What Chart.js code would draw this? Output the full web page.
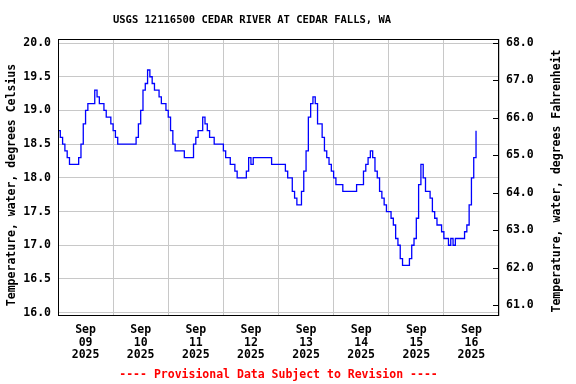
<!DOCTYPE html>
<html>
<head>
<meta charset="utf-8">
<script src="https://cdn.jsdelivr.net/npm/chart.js@4.4.1/dist/chart.umd.min.js"></script>
<style>
body { margin: 0; background: #fff; }
#wrap { width: 576px; height: 384px; position: relative; }
</style>
</head>
<body>
<div id="wrap"><canvas id="lineChart"></canvas></div>
<script>
const month = 'Sep';
const year = '2025';
const days = ['09', '10', '11', '12', '13', '14', '15', '16'];
const celsiusTicks = [16.0, 16.5, 17.0, 17.5, 18.0, 18.5, 19.0, 19.5, 20.0];
const fahrenheitTicks = [61, 62, 63, 64, 65, 66, 67, 68];

// hourly water temperature (deg C), each array starts at midnight
const sep09 = [18.7, 18.6, 18.5, 18.4, 18.3, 18.2, 18.2, 18.2, 18.2, 18.3, 18.5, 18.8, 19.0, 19.1, 19.1, 19.1, 19.3, 19.2, 19.1, 19.1, 19.0, 18.9, 18.9, 18.8];
const sep10 = [18.7, 18.6, 18.5, 18.5, 18.5, 18.5, 18.5, 18.5, 18.5, 18.5, 18.6, 18.8, 19.0, 19.3, 19.4, 19.6, 19.5, 19.4, 19.3, 19.3, 19.2, 19.1, 19.1, 19.0];
const sep11 = [18.9, 18.7, 18.5, 18.4, 18.4, 18.4, 18.4, 18.3, 18.3, 18.3, 18.3, 18.5, 18.6, 18.7, 18.7, 18.9, 18.8, 18.7, 18.6, 18.6, 18.5, 18.5, 18.5, 18.5];
const sep12 = [18.4, 18.3, 18.3, 18.2, 18.2, 18.1, 18.0, 18.0, 18.0, 18.0, 18.1, 18.3, 18.2, 18.3, 18.3, 18.3, 18.3, 18.3, 18.3, 18.3, 18.3, 18.2, 18.2, 18.2];
const sep13 = [18.2, 18.2, 18.2, 18.1, 18.0, 18.0, 17.8, 17.7, 17.6, 17.6, 17.8, 18.1, 18.4, 18.9, 19.1, 19.2, 19.1, 18.8, 18.8, 18.6, 18.4, 18.3, 18.2, 18.1];
const sep14 = [18.0, 17.9, 17.9, 17.9, 17.8, 17.8, 17.8, 17.8, 17.8, 17.8, 17.9, 17.9, 17.9, 18.1, 18.2, 18.3, 18.4, 18.3, 18.1, 18.0, 17.8, 17.7, 17.6, 17.5];
const sep15 = [17.5, 17.4, 17.3, 17.1, 17.0, 16.8, 16.7, 16.7, 16.7, 16.8, 17.0, 17.1, 17.4, 17.9, 18.2, 18.0, 17.8, 17.8, 17.7, 17.5, 17.4, 17.3, 17.3, 17.2];
const sep16 = [17.1, 17.1, 17.0, 17.1, 17.0, 17.1, 17.1, 17.1, 17.1, 17.2, 17.3, 17.6, 18.0, 18.3, 18.7];

const allDays = [sep09, sep10, sep11, sep12, sep13, sep14, sep15, sep16];
const points = [];
allDays.forEach(function(vals, d) {
    vals.forEach(function(v, h) {
        points.push({ x: d * 24 + h, y: v });
    });
});

const cMin = 15.95;
const cMax = 20.06;
const toF = c => c * 1.8 + 32;
const monoFont = '"DejaVu Sans Mono", "Liberation Mono", monospace';
const gridGrey = '#c8c8c8';

const tickFont = { family: monoFont, size: 11.5, weight: 'bold', lineHeight: 1.09 };

// frame, inward ticks on the Fahrenheit side, titles and the footer
const extras = {
    id: 'extras',
    afterDraw(chart) {
        const ctx = chart.ctx;
        const a = chart.chartArea;
        const y2 = chart.scales.y2;
        ctx.save();
        ctx.strokeStyle = '#000';
        ctx.lineWidth = 1;
        ctx.strokeRect(Math.round(a.left) + 0.5, Math.round(a.top) + 0.5,
            Math.round(a.right - a.left) - 1, Math.round(a.bottom - a.top) - 1);
        ctx.beginPath();
        y2.ticks.forEach(function(t) {
            const py = Math.round(y2.getPixelForValue(t.value)) + 0.5;
            ctx.moveTo(a.right - 6, py);
            ctx.lineTo(a.right, py);
        });
        ctx.stroke();

        ctx.fillStyle = '#000';
        ctx.textAlign = 'center';
        ctx.textBaseline = 'middle';
        ctx.font = 'bold 10.5px ' + monoFont;
        ctx.fillText('USGS 12116500 CEDAR RIVER AT CEDAR FALLS, WA', 252, 20);

        ctx.font = 'bold 11.5px ' + monoFont;
        ctx.save();
        ctx.translate(12, 185);
        ctx.rotate(-Math.PI / 2);
        ctx.fillText('Temperature, water, degrees Celsius', 0, 0);
        ctx.restore();
        ctx.save();
        ctx.translate(557, 181);
        ctx.rotate(-Math.PI / 2);
        ctx.fillText('Temperature, water, degrees Fahrenheit', 0, 0);
        ctx.restore();

        ctx.fillStyle = '#ff0000';
        ctx.fillText('---- Provisional Data Subject to Revision ----', (a.left + a.right) / 2, 375);
        ctx.restore();
    }
};

const ctx = document.getElementById('lineChart').getContext('2d');
new Chart(ctx, {
    type: 'line',
    data: {
        datasets: [{
            label: 'Temperature',
            data: points,
            borderColor: '#0000ff',
            borderWidth: 1.3,
            pointRadius: 0,
            stepped: true,
            fill: false
        }]
    },
    options: {
        responsive: true,
        maintainAspectRatio: false,
        animation: false,
        devicePixelRatio: 1,
        layout: { padding: { top: 39, bottom: 16, left: 0, right: 0 } },
        plugins: {
            legend: { display: false },
            tooltip: { enabled: false }
        },
        scales: {
            x: {
                type: 'linear',
                min: 0,
                max: days.length * 24,
                afterBuildTicks: function(scale) {
                    const t = [];
                    for (let v = 0; v <= days.length * 24; v += 12) t.push({ value: v });
                    scale.ticks = t;
                },
                afterFit: function(scale) { scale.height = 52; },
                grid: {
                    color: c => (c.tick && c.tick.value % 24 === 0) ? gridGrey : 'rgba(0,0,0,0)',
                    drawTicks: false
                },
                border: { display: false },
                ticks: {
                    autoSkip: false,
                    maxRotation: 0,
                    padding: 8,
                    color: '#000',
                    font: tickFont,
                    callback: function(v) {
                        if (v % 24 !== 12) return '';
                        return [month, days[(v - 12) / 24], year];
                    }
                }
            },
            y: {
                position: 'left',
                min: cMin,
                max: cMax,
                afterBuildTicks: function(scale) {
                    scale.ticks = celsiusTicks.map(v => ({ value: v }));
                },
                afterFit: function(scale) { scale.width = 58; },
                grid: { color: gridGrey, drawTicks: false },
                border: { display: false },
                ticks: {
                    padding: 7,
                    color: '#000',
                    font: tickFont,
                    callback: v => v.toFixed(1)
                }
            },
            y2: {
                position: 'right',
                min: toF(cMin),
                max: toF(cMax),
                afterBuildTicks: function(scale) {
                    scale.ticks = fahrenheitTicks.map(v => ({ value: v }));
                },
                afterFit: function(scale) { scale.width = 77; },
                grid: { drawOnChartArea: false, drawTicks: false },
                border: { display: false },
                ticks: {
                    padding: 7,
                    color: '#000',
                    font: tickFont,
                    callback: v => v.toFixed(1)
                }
            }
        }
    },
    plugins: [extras]
});
</script>
</body>
</html>
